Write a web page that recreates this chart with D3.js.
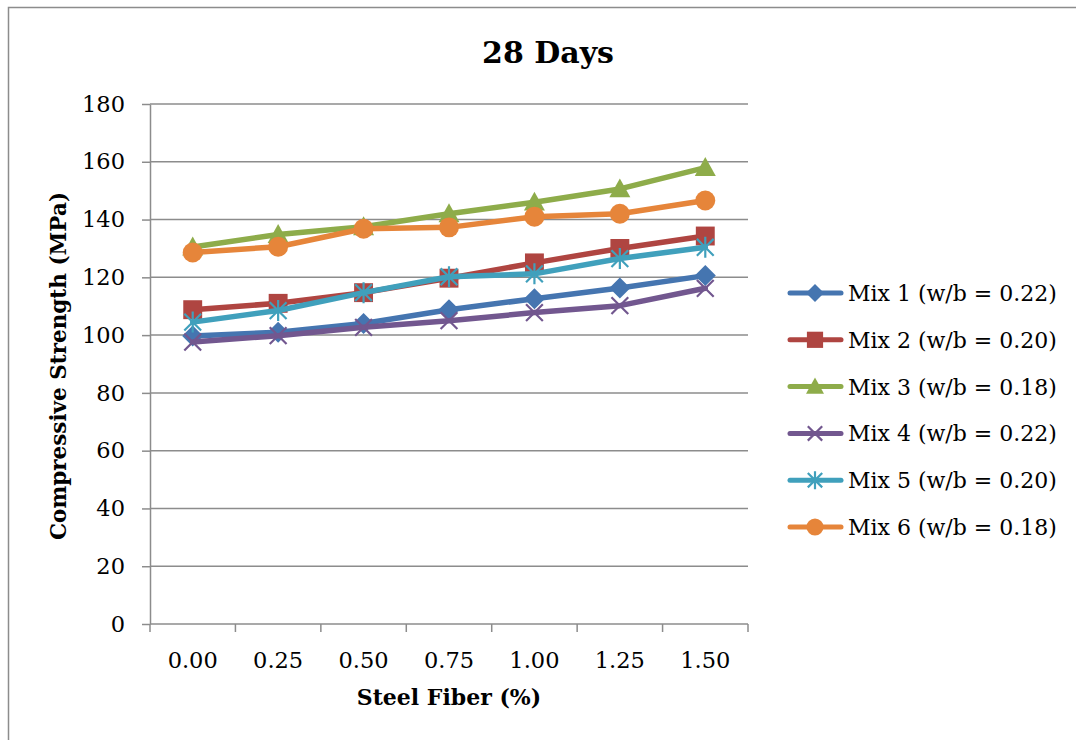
<!DOCTYPE html>
<html>
<head>
<meta charset="utf-8">
<script src="https://cdn.jsdelivr.net/npm/d3@7"></script>
<style>
  html, body { margin: 0; padding: 0; background: #fff; }
  svg { display: block; }
  text { font-family: "DejaVu Serif", serif; fill: #000; }
</style>
</head>
<body>
<svg id="chart" width="1076" height="740"></svg>
<script>
// Steel fiber dosage (%) on the x axis
const categories = ["0.00", "0.25", "0.50", "0.75", "1.00", "1.25", "1.50"];

// 28-day compressive strength (MPa) per mix
const mix1 = [99.7, 101.0, 104.0, 108.8, 112.6, 116.3, 120.6];
const mix2 = [108.8, 111.0, 114.7, 119.7, 125.0, 130.0, 134.3];
const mix3 = [130.5, 134.8, 137.5, 142.0, 146.0, 150.6, 158.0];
const mix4 = [97.6, 99.8, 102.7, 105.0, 107.8, 110.2, 116.2];
const mix5 = [104.5, 108.5, 114.7, 120.2, 121.2, 126.5, 130.4];
const mix6 = [128.6, 130.6, 136.8, 137.3, 141.0, 142.0, 146.6];

const seriesNames = [
  "Mix 1 (w/b = 0.22)", "Mix 2 (w/b = 0.20)", "Mix 3 (w/b = 0.18)",
  "Mix 4 (w/b = 0.22)", "Mix 5 (w/b = 0.20)", "Mix 6 (w/b = 0.18)"
];
const seriesValues = [mix1, mix2, mix3, mix4, mix5, mix6];
const seriesColors = ["#4575B0", "#AF4541", "#8EAC4A", "#72578F", "#40A0BC", "#E6853A"];
const seriesMarkers = ["diamond", "square", "triangle", "x", "asterisk", "circle"];

const yTicks = [0, 20, 40, 60, 80, 100, 120, 140, 160, 180];

const svg = d3.select("#chart");
const plot = { left: 150, right: 748, top: 104, bottom: 624 };

// Chart frame
svg.append("rect")
  .attr("x", 8.5).attr("y", 7.5)
  .attr("width", 1080).attr("height", 760)
  .attr("fill", "#fff").attr("stroke", "#8c8c8c").attr("stroke-width", 1.5);

const x = d3.scaleBand().domain(categories).range([plot.left, plot.right]).padding(0);
const y = d3.scaleLinear().domain([0, 180]).range([plot.bottom, plot.top]);

// Horizontal gridlines
svg.append("g").selectAll("line").data(yTicks.filter(d => d > 0)).join("line")
  .attr("x1", plot.left).attr("x2", plot.right)
  .attr("y1", d => y(d)).attr("y2", d => y(d))
  .attr("stroke", "#8c8c8c").attr("stroke-width", 1.5);

// Y axis
const yAxis = svg.append("g")
  .attr("transform", `translate(${plot.left},0)`)
  .call(d3.axisLeft(y).tickValues(yTicks).tickSize(8).tickSizeOuter(0).tickPadding(17).tickFormat(d3.format("d")));
yAxis.select(".domain").attr("stroke", "#8c8c8c").attr("stroke-width", 1.5);
yAxis.selectAll(".tick line").attr("stroke", "#8c8c8c").attr("stroke-width", 1.5);
yAxis.selectAll(".tick text").attr("font-size", 22.5).attr("font-family", "DejaVu Serif");

// X axis with ticks on category boundaries
const xAxis = svg.append("g").attr("transform", `translate(0,${plot.bottom})`);
xAxis.append("line").attr("x1", plot.left).attr("x2", plot.right)
  .attr("stroke", "#8c8c8c").attr("stroke-width", 1.5);
const boundaries = categories.map(c => x(c)).concat([x(categories[categories.length - 1]) + x.bandwidth()]);
xAxis.selectAll("line.bt").data(boundaries).join("line").attr("class", "bt")
  .attr("x1", d => d).attr("x2", d => d).attr("y1", 0).attr("y2", 8)
  .attr("stroke", "#8c8c8c").attr("stroke-width", 1.5);
xAxis.selectAll("text").data(categories).join("text")
  .attr("x", d => x(d) + x.bandwidth() / 2).attr("y", 44)
  .attr("text-anchor", "middle").attr("font-size", 22.5).text(d => d);

// Titles
svg.append("text").attr("x", 548).attr("y", 63).attr("text-anchor", "middle")
  .attr("font-size", 30).attr("font-weight", "bold").text("28 Days");
svg.append("text").attr("x", 449).attr("y", 705).attr("text-anchor", "middle")
  .attr("font-size", 22).attr("font-weight", "bold").text("Steel Fiber (%)");
svg.append("text").attr("transform", "translate(66,366) rotate(-90)").attr("text-anchor", "middle")
  .attr("font-size", 21.5).attr("font-weight", "bold").text("Compressive Strength (MPa)");

// Marker shapes
function drawMarker(g, type, color, s) {
  if (type === "diamond") {
    g.append("path").attr("d", `M0,${-s}L${s},0L0,${s}L${-s},0Z`).attr("fill", color);
  } else if (type === "square") {
    g.append("rect").attr("x", -s * 0.9).attr("y", -s * 0.9).attr("width", s * 1.8).attr("height", s * 1.8).attr("fill", color);
  } else if (type === "triangle") {
    g.append("path").attr("d", `M0,${-s}L${s},${s * 0.8}L${-s},${s * 0.8}Z`).attr("fill", color);
  } else if (type === "circle") {
    g.append("circle").attr("r", s * 0.95).attr("fill", color);
  } else if (type === "x") {
    const a = s * 0.8;
    g.append("path").attr("d", `M${-a},${-a}L${a},${a}M${-a},${a}L${a},${-a}`)
      .attr("stroke", color).attr("stroke-width", 2.2).attr("fill", "none");
  } else if (type === "asterisk") {
    const a = s * 0.8;
    g.append("path").attr("d", `M${-a},${-a}L${a},${a}M${-a},${a}L${a},${-a}M0,${-s}L0,${s}`)
      .attr("stroke", color).attr("stroke-width", 2.2).attr("fill", "none");
  }
}

const line = d3.line().x((d, i) => x(categories[i]) + x.bandwidth() / 2).y(d => y(d));

seriesValues.forEach((vals, k) => {
  const g = svg.append("g");
  g.append("path").datum(vals).attr("d", line)
    .attr("fill", "none").attr("stroke", seriesColors[k]).attr("stroke-width", 5.5)
    .attr("stroke-linejoin", "round").attr("stroke-linecap", "round");
  vals.forEach((v, i) => {
    const m = g.append("g").attr("transform", `translate(${x(categories[i]) + x.bandwidth() / 2},${y(v)})`);
    drawMarker(m, seriesMarkers[k], seriesColors[k], 10.5);
  });
});

// Legend
const legend = svg.append("g");
const legendY = d3.scalePoint().domain(seriesNames).range([293, 527]);
seriesNames.forEach((name, k) => {
  const row = legend.append("g").attr("transform", `translate(0,${legendY(name)})`);
  row.append("line").attr("x1", 790).attr("x2", 841)
    .attr("stroke", seriesColors[k]).attr("stroke-width", 5).attr("stroke-linecap", "round");
  drawMarker(row.append("g").attr("transform", "translate(815,0)"), seriesMarkers[k], seriesColors[k], 9);
  row.append("text").attr("x", 848).attr("y", 8).attr("font-size", 22).text(name);
});
</script>
</body>
</html>
